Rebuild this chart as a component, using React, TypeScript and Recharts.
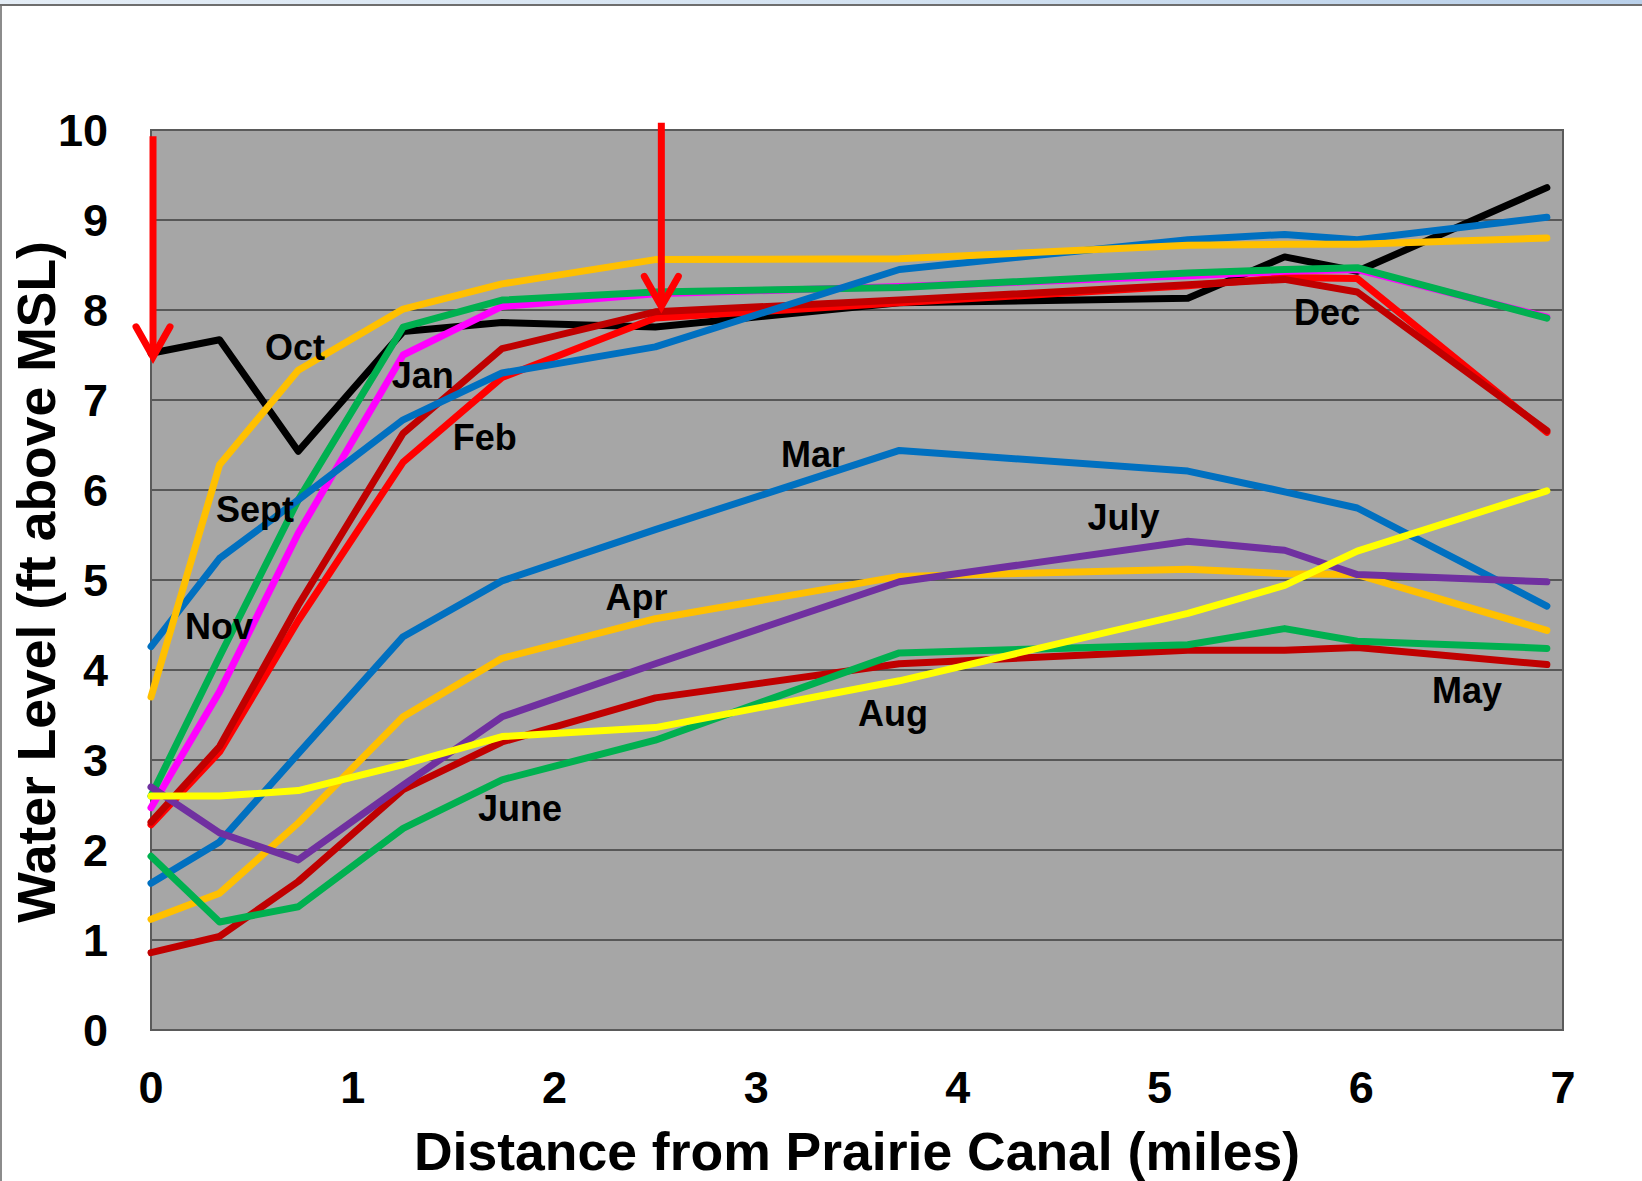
import {
  CartesianGrid,
  Line,
  LineChart,
  ReferenceArea,
  ReferenceDot,
  ReferenceLine,
  XAxis,
  YAxis,
} from "recharts";

// well distances from Prairie Canal (miles)
const distances = [0, 0.34, 0.73, 1.25, 1.74, 2.5, 3.71, 5.14, 5.62, 5.98, 6.92];

// water level (ft above MSL) at each well
const octLevels = [7.52, 7.67, 6.43, 7.76, 7.86, 7.81, 8.08, 8.13, 8.59, 8.43, 9.36];
const feb1Levels = [2.28, 3.09, 4.55, 6.31, 7.25, 7.91, 8.08, 8.27, 8.36, 8.35, 6.64];
const feb2Levels = [2.31, 3.15, 4.72, 6.63, 7.57, 7.98, 8.11, 8.28, 8.34, 8.2, 6.66];
const janLevels = [2.47, 3.76, 5.52, 7.5, 8.04, 8.18, 8.26, 8.38, 8.43, 8.45, 7.92];
const decLevels = [2.6, 4.15, 5.89, 7.81, 8.11, 8.2, 8.25, 8.41, 8.45, 8.47, 7.91];
const novLevels = [4.26, 5.24, 5.89, 6.78, 7.3, 7.59, 8.45, 8.78, 8.84, 8.78, 9.03];
const septLevels = [3.7, 6.28, 7.33, 8.01, 8.29, 8.56, 8.57, 8.72, 8.73, 8.73, 8.8];
const marLevels = [1.63, 2.09, 3.07, 4.37, 4.99, 5.56, 6.44, 6.21, 5.98, 5.8, 4.71];
const aprLevels = [1.23, 1.52, 2.3, 3.48, 4.13, 4.57, 5.04, 5.12, 5.07, 5.06, 4.44];
const mayLevels = [0.86, 1.04, 1.65, 2.67, 3.2, 3.69, 4.07, 4.22, 4.22, 4.25, 4.06];
const juneLevels = [1.93, 1.2, 1.37, 2.24, 2.78, 3.22, 4.19, 4.28, 4.46, 4.32, 4.24];
const julyLevels = [2.7, 2.19, 1.89, 2.72, 3.48, 4.07, 4.98, 5.43, 5.33, 5.06, 4.98];
const augLevels = [2.6, 2.6, 2.66, 2.95, 3.26, 3.36, 3.88, 4.63, 4.94, 5.32, 5.99];

const xTicks = [0, 1, 2, 3, 4, 5, 6, 7];
const yTicks = [0, 1, 2, 3, 4, 5, 6, 7, 8, 9, 10];

// month annotations (text start, baseline) in data units
const noteNames = ["Oct", "Jan", "Feb", "Sept", "Nov", "Mar", "Apr", "July", "June", "Aug", "May", "Dec"];
const noteX = [0.565, 1.193, 1.496, 0.322, 0.169, 3.123, 2.253, 4.643, 1.621, 3.505, 6.351, 5.667];
const noteY = [7.45, 7.13, 6.45, 5.65, 4.35, 6.26, 4.67, 5.56, 2.32, 3.38, 3.63, 7.83];

// red arrows: distance, top, tip
const arrowX = [0.01, 2.53];
const arrowTop = [9.93, 10.08];
const arrowTip = [7.48, 8.04];

const series = [
  { key: "oct", color: "#000000", values: octLevels },
  { key: "feb1", color: "#FF0000", values: feb1Levels },
  { key: "feb2", color: "#C00000", values: feb2Levels },
  { key: "jan", color: "#FF00FF", values: janLevels },
  { key: "dec", color: "#00B050", values: decLevels },
  { key: "nov", color: "#0070C0", values: novLevels },
  { key: "sept", color: "#FFC000", values: septLevels },
  { key: "mar", color: "#0070C0", values: marLevels },
  { key: "apr", color: "#FFC000", values: aprLevels },
  { key: "may", color: "#C00000", values: mayLevels },
  { key: "june", color: "#00B050", values: juneLevels },
  { key: "july", color: "#7030A0", values: julyLevels },
  { key: "aug", color: "#FFFF00", values: augLevels },
];

const rows = distances.map((d, i) => {
  const row: Record<string, number> = { x: d };
  series.forEach((s) => (row[s.key] = s.values[i]));
  return row;
});

const FONT = '"Liberation Sans", Arial, sans-serif';
const tickFont = { fontFamily: FONT, fontWeight: 700, fontSize: 45, fill: "#000" };
const titleFont = { fontFamily: FONT, fontWeight: 700, fontSize: 53.5, fill: "#000" };
const noteFont = { fontFamily: FONT, fontWeight: 700, fontSize: 36, fill: "#000" };

const XTick = ({ x, y, payload }: any) => (
  <text x={x} y={y + 73} textAnchor="middle" style={tickFont}>
    {payload.value}
  </text>
);

const YTick = ({ x, y, payload }: any) => (
  <text x={x - 43} y={y + 16} textAnchor="end" style={tickFont}>
    {payload.value}
  </text>
);

const XTitle = ({ viewBox }: any) => (
  <text
    x={viewBox.x + viewBox.width / 2}
    y={viewBox.y + viewBox.height - 11}
    textAnchor="middle"
    style={titleFont}
  >
    Distance from Prairie Canal (miles)
  </text>
);

const YTitle = ({ viewBox }: any) => {
  const cx = viewBox.x + 55;
  const cy = viewBox.y + viewBox.height / 2 + 2;
  return (
    <text x={cx} y={cy} textAnchor="middle" transform={`rotate(-90, ${cx}, ${cy})`} style={titleFont}>
      Water Level (ft above MSL)
    </text>
  );
};

const Arrow = ({ x1, y1, x2, y2 }: any) => (
  <g>
    <line x1={x1} y1={y1} x2={x2} y2={y2 - 4} stroke="#FF0000" strokeWidth={7} />
    <polyline
      points={`${x2 - 17},${y2 - 30} ${x2},${y2} ${x2 + 17},${y2 - 30}`}
      fill="none"
      stroke="#FF0000"
      strokeWidth={7}
      strokeLinecap="round"
    />
  </g>
);

export default function App() {
  return (
    <div style={{ position: "absolute", left: 0, top: 0, width: 1642, height: 1181, background: "#fff", overflow: "hidden" }}>
      <div style={{ position: "absolute", left: 0, top: 0, width: "100%", height: 4, background: "linear-gradient(90deg,#e4edf6,#d3e2f1 55%,#b9d0ea)" }} />
      <div style={{ position: "absolute", left: 0, top: 4, width: "100%", height: 2, background: "#6e6e6e" }} />
      <div style={{ position: "absolute", left: 0, top: 6, width: 2, bottom: 0, background: "#8c8c8c" }} />
      <div style={{ position: "absolute", left: 0, top: 0 }}>
        <LineChart width={1642} height={1181} data={rows} margin={{ top: 130, right: 79, left: 0, bottom: 0 }}>
          <CartesianGrid vertical={false} fill="#A6A6A6" stroke="#3c3c3c" strokeWidth={1.5} />
          <XAxis
            type="number"
            dataKey="x"
            domain={[0, 7]}
            ticks={xTicks}
            interval={0}
            height={151}
            axisLine={false}
            tickLine={false}
            tickSize={0}
            tickMargin={0}
            tick={<XTick />}
            label={(p: any) => <XTitle {...p} />}
          />
          <YAxis
            type="number"
            domain={[0, 10]}
            ticks={yTicks}
            interval={0}
            width={151}
            axisLine={false}
            tickLine={false}
            tickSize={0}
            tickMargin={0}
            tick={<YTick />}
            label={(p: any) => <YTitle {...p} />}
          />
          {series.map((s) => (
            <Line
              key={s.key}
              dataKey={s.key}
              type="linear"
              stroke={s.color}
              strokeWidth={7}
              strokeLinecap="round"
              strokeLinejoin="round"
              dot={false}
              activeDot={false}
              isAnimationActive={false}
            />
          ))}
          <ReferenceArea x1={0} x2={7} y1={0} y2={10} fill="none" stroke="#5a5a5a" strokeWidth={2} ifOverflow="visible" />
          {arrowX.map((ax, i) => (
            <ReferenceLine
              key={`arrow-${i}`}
              segment={[
                { x: ax, y: arrowTop[i] },
                { x: ax, y: arrowTip[i] },
              ]}
              ifOverflow="visible"
              shape={(p: any) => <Arrow {...p} />}
            />
          ))}
          {noteNames.map((name, i) => (
            <ReferenceDot
              key={name}
              x={noteX[i]}
              y={noteY[i]}
              r={0}
              ifOverflow="visible"
              shape={(p: any) => (
                <text x={p.cx} y={p.cy} style={noteFont}>
                  {name}
                </text>
              )}
            />
          ))}
        </LineChart>
      </div>
    </div>
  );
}
